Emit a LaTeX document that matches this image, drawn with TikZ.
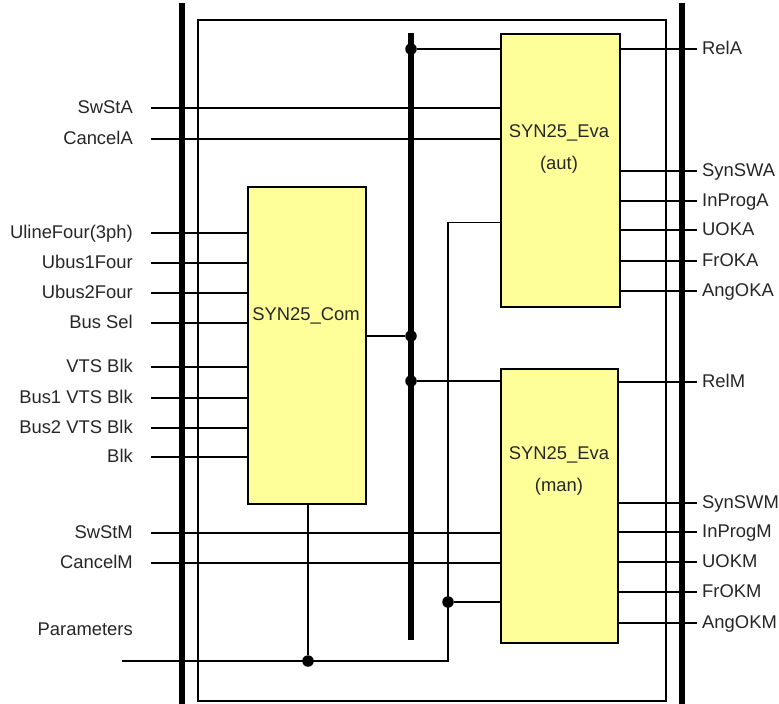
\documentclass[tikz,border=0pt]{standalone}
\usepackage{fontspec}
\setmainfont{Liberation Sans}
\usepackage{tikz}
\usetikzlibrary{positioning,calc}
\definecolor{blockyellow}{HTML}{FFFF99}
\definecolor{txtgray}{HTML}{262626}

\tikzset{
  sig/.style={line width=1.3pt},
  bar/.style={line width=6pt},
  block/.style={draw, line width=1.5pt, fill=blockyellow, anchor=north west, inner sep=0pt},
  lbl/.style={inner sep=0pt, text=txtgray, font=\fontsize{18.4}{20}\selectfont, text height=14pt, text depth=4pt},
  blocktxt/.style={inner sep=0pt, text=txtgray, align=center, font=\fontsize{18.4}{32}\selectfont},
  dot/.style={circle, fill, inner sep=0pt, minimum size=11.5pt},
}

\begin{document}
\begin{tikzpicture}[x=1pt,y=-1pt]
  \useasboundingbox (0,0) rectangle (779,704);
  % FRAME: two thick rails and the thin inner border
  \draw[bar] (182,3) -- (182,704);
  \draw[bar] (682,3) -- (682,704);
  \draw[sig] (198,20) rectangle (666,701);

  % BLOCKS: common part and the two evaluation parts
  \node[block, minimum width=118pt, minimum height=317pt] (com) at (247,186) {};
  \node[block, minimum width=119pt, minimum height=273pt] (aut) at (500,33) {};
  \node[block, minimum width=117pt, minimum height=274pt] (man) at (500,368) {};
  \node[blocktxt] (comtxt) at (306,316) {SYN25\_Com};
  \node[blocktxt] (auttxt) at (559,149) {SYN25\_Eva\\(aut)};
  \node[blocktxt] (mantxt) at (559,471) {SYN25\_Eva\\(man)};

  % INTERNAL BUS from SYN25_Com to both evaluation blocks
  \coordinate (bustop) at (411,33);
  \coordinate (busbot) at (411,640);
  \draw[bar] (bustop) -- (busbot);
  \node[dot] (busa) at (411,49) {};
  \node[dot] (busc) at (411,336) {};
  \node[dot] (busm) at (411,381) {};
  \draw[sig] (busa) -- (busa -| aut.west);
  \draw[sig] (busc -| com.east) -- (busc);
  \draw[sig] (busm) -- (busm -| man.west);

  % INPUTS to the automatic evaluation
  \node[lbl, anchor=east] (swsta) at (133,108) {SwStA};
  \node[lbl, anchor=east] (cancela) at (133,139) {CancelA};
  \draw[sig] ([xshift=18pt]swsta.east) -- (swsta -| aut.west);
  \draw[sig] ([xshift=18pt]cancela.east) -- (cancela -| aut.west);

  % INPUTS to SYN25_Com
  \node[lbl, anchor=east] (uline) at (133,233) {UlineFour(3ph)};
  \node[lbl, anchor=east] (ubusa) at (133,263) {Ubus1Four};
  \node[lbl, anchor=east] (ubusb) at (133,293) {Ubus2Four};
  \node[lbl, anchor=east] (bussel) at (133,323) {Bus Sel};
  \node[lbl, anchor=east] (vts) at (133,367) {VTS Blk};
  \node[lbl, anchor=east] (vtsa) at (133,398) {Bus1 VTS Blk};
  \node[lbl, anchor=east] (vtsb) at (133,428) {Bus2 VTS Blk};
  \node[lbl, anchor=east] (blk) at (133,457) {Blk};
  \foreach \n in {uline,ubusa,ubusb,bussel,vts,vtsa,vtsb,blk}
    \draw[sig] ([xshift=18pt]\n.east) -- (\n -| com.west);

  % INPUTS to the manual evaluation
  \node[lbl, anchor=east] (swstm) at (133,533) {SwStM};
  \node[lbl, anchor=east] (cancelm) at (133,563) {CancelM};
  \draw[sig] ([xshift=18pt]swstm.east) -- (swstm -| man.west);
  \draw[sig] ([xshift=18pt]cancelm.east) -- (cancelm -| man.west);

  % PARAMETERS line, shared by all three blocks
  \node[lbl, anchor=east] (params) at (133,630) {Parameters};
  \coordinate (parin) at (122,661);
  \coordinate (parup) at (448,661);
  \node[dot] (parcom) at (308,661) {};
  \node[dot] (parman) at (448,602) {};
  \draw[sig] (parin) -- (parup) |- ([yshift=-52.5pt]aut.west);
  \draw[sig] (parcom |- com.south) -- (parcom);
  \draw[sig] (parman) -- (parman -| man.west);

  % OUTPUTS of the automatic evaluation
  \node[lbl, anchor=west] (rela) at (702,49) {RelA};
  \node[lbl, anchor=west] (synswa) at (702,171) {SynSWA};
  \node[lbl, anchor=west] (inproga) at (702,201) {InProgA};
  \node[lbl, anchor=west] (uoka) at (702,230) {UOKA};
  \node[lbl, anchor=west] (froka) at (702,261) {FrOKA};
  \node[lbl, anchor=west] (angoka) at (702,291) {AngOKA};
  \foreach \n in {rela,synswa,inproga,uoka,froka,angoka}
    \draw[sig] (\n -| aut.east) -- ([xshift=-5pt]\n.west);

  % OUTPUTS of the manual evaluation
  \node[lbl, anchor=west] (relm) at (702,382) {RelM};
  \node[lbl, anchor=west] (synswm) at (702,503) {SynSWM};
  \node[lbl, anchor=west] (inprogm) at (702,532) {InProgM};
  \node[lbl, anchor=west] (uokm) at (702,562) {UOKM};
  \node[lbl, anchor=west] (frokm) at (702,592) {FrOKM};
  \node[lbl, anchor=west] (angokm) at (702,623) {AngOKM};
  \foreach \n in {relm,synswm,inprogm,uokm,frokm,angokm}
    \draw[sig] (\n -| man.east) -- ([xshift=-5pt]\n.west);
\end{tikzpicture}
\end{document}
